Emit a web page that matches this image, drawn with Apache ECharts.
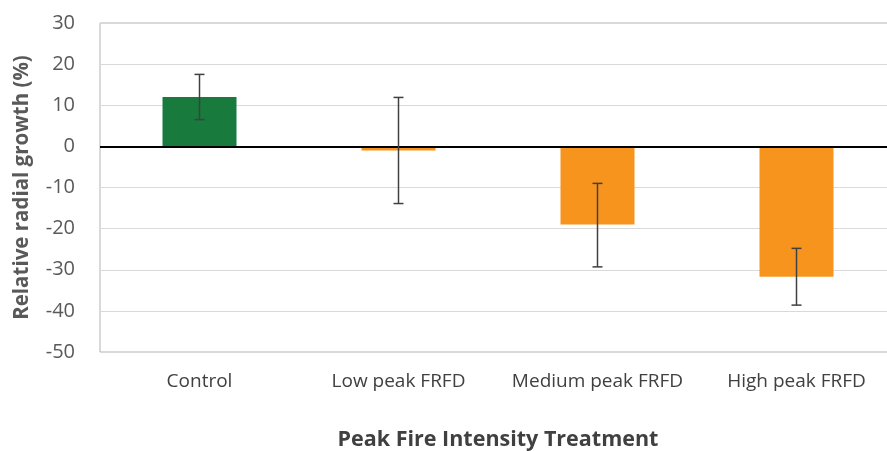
<!DOCTYPE html>
<html>
<head>
<meta charset="utf-8">
<script src="https://cdn.jsdelivr.net/npm/echarts@6/dist/echarts.min.js"></script>
<style>html,body{margin:0;padding:0;background:#fff;}#chart{width:887px;height:451px;}</style>
</head>
<body>
<div id="chart"></div>
<script>
const categories = ['Control', 'Low peak FRFD', 'Medium peak FRFD', 'High peak FRFD'];
const meanValues = [12, -1, -19, -31.7];
const errLow = [6.5, -13.9, -29.3, -38.6];
const errHigh = [17.5, 11.9, -9, -24.8];
const barColors = ['#187a3c', '#f7941d', '#f7941d', '#f7941d'];
const yTicks = { min: -50, max: 30, interval: 10 };

const chart = echarts.init(document.getElementById('chart'));
const font = '"Open Sans", "Liberation Sans", sans-serif';
chart.setOption({
  animation: false,
  grid: { left: 100, top: 23, width: 796, height: 329, containLabel: false, outerBoundsMode: 'none', show: true, borderColor: '#b3b3b3', borderWidth: 1, backgroundColor: 'transparent' },
  xAxis: {
    type: 'category', data: categories, position: 'bottom',
    axisLine: { show: false }, axisTick: { show: false },
    axisLabel: { color: '#404040', fontSize: 19, margin: 20, interval: 0, fontFamily: font },
    name: 'Peak Fire Intensity Treatment', nameLocation: 'middle', nameGap: 77,
    nameTextStyle: { color: '#404040', fontSize: 21.5, fontWeight: 'bold', fontFamily: font }
  },
  yAxis: {
    type: 'value', min: yTicks.min, max: yTicks.max, interval: yTicks.interval,
    axisLine: { show: false }, axisTick: { show: false },
    axisLabel: { color: '#595959', fontSize: 20, margin: 25, fontFamily: font },
    splitLine: { lineStyle: { color: '#d9d9d9', width: 1 } },
    name: 'Relative radial growth (%)', nameLocation: 'middle', nameGap: 67, nameRotate: 90,
    nameTextStyle: { color: '#595959', fontSize: 20.5, fontWeight: 'bold', fontFamily: font }
  },
  series: [
    {
      type: 'bar', barWidth: 74,
      data: meanValues.map((v, i) => ({ value: v, itemStyle: { color: barColors[i] } })),
      markLine: { silent: true, symbol: 'none', label: { show: false }, lineStyle: { color: '#000', width: 2, type: 'solid' }, data: [{ yAxis: 0 }] },
      z: 2
    },
    {
      type: 'custom',
      data: categories.map((c, i) => [i, errLow[i], errHigh[i]]),
      renderItem: function (params, api) {
        const x = api.value(0);
        const lo = api.coord([x, api.value(1)]);
        const hi = api.coord([x, api.value(2)]);
        const cap = 5;
        const style = { stroke: '#404040', lineWidth: 1.5 };
        return { type: 'group', children: [
          { type: 'line', shape: { x1: lo[0], y1: lo[1], x2: hi[0], y2: hi[1] }, style: style },
          { type: 'line', shape: { x1: lo[0] - cap, y1: lo[1], x2: lo[0] + cap, y2: lo[1] }, style: style },
          { type: 'line', shape: { x1: hi[0] - cap, y1: hi[1], x2: hi[0] + cap, y2: hi[1] }, style: style }
        ] };
      },
      z: 5
    }
  ]
});
</script>
</body>
</html>
